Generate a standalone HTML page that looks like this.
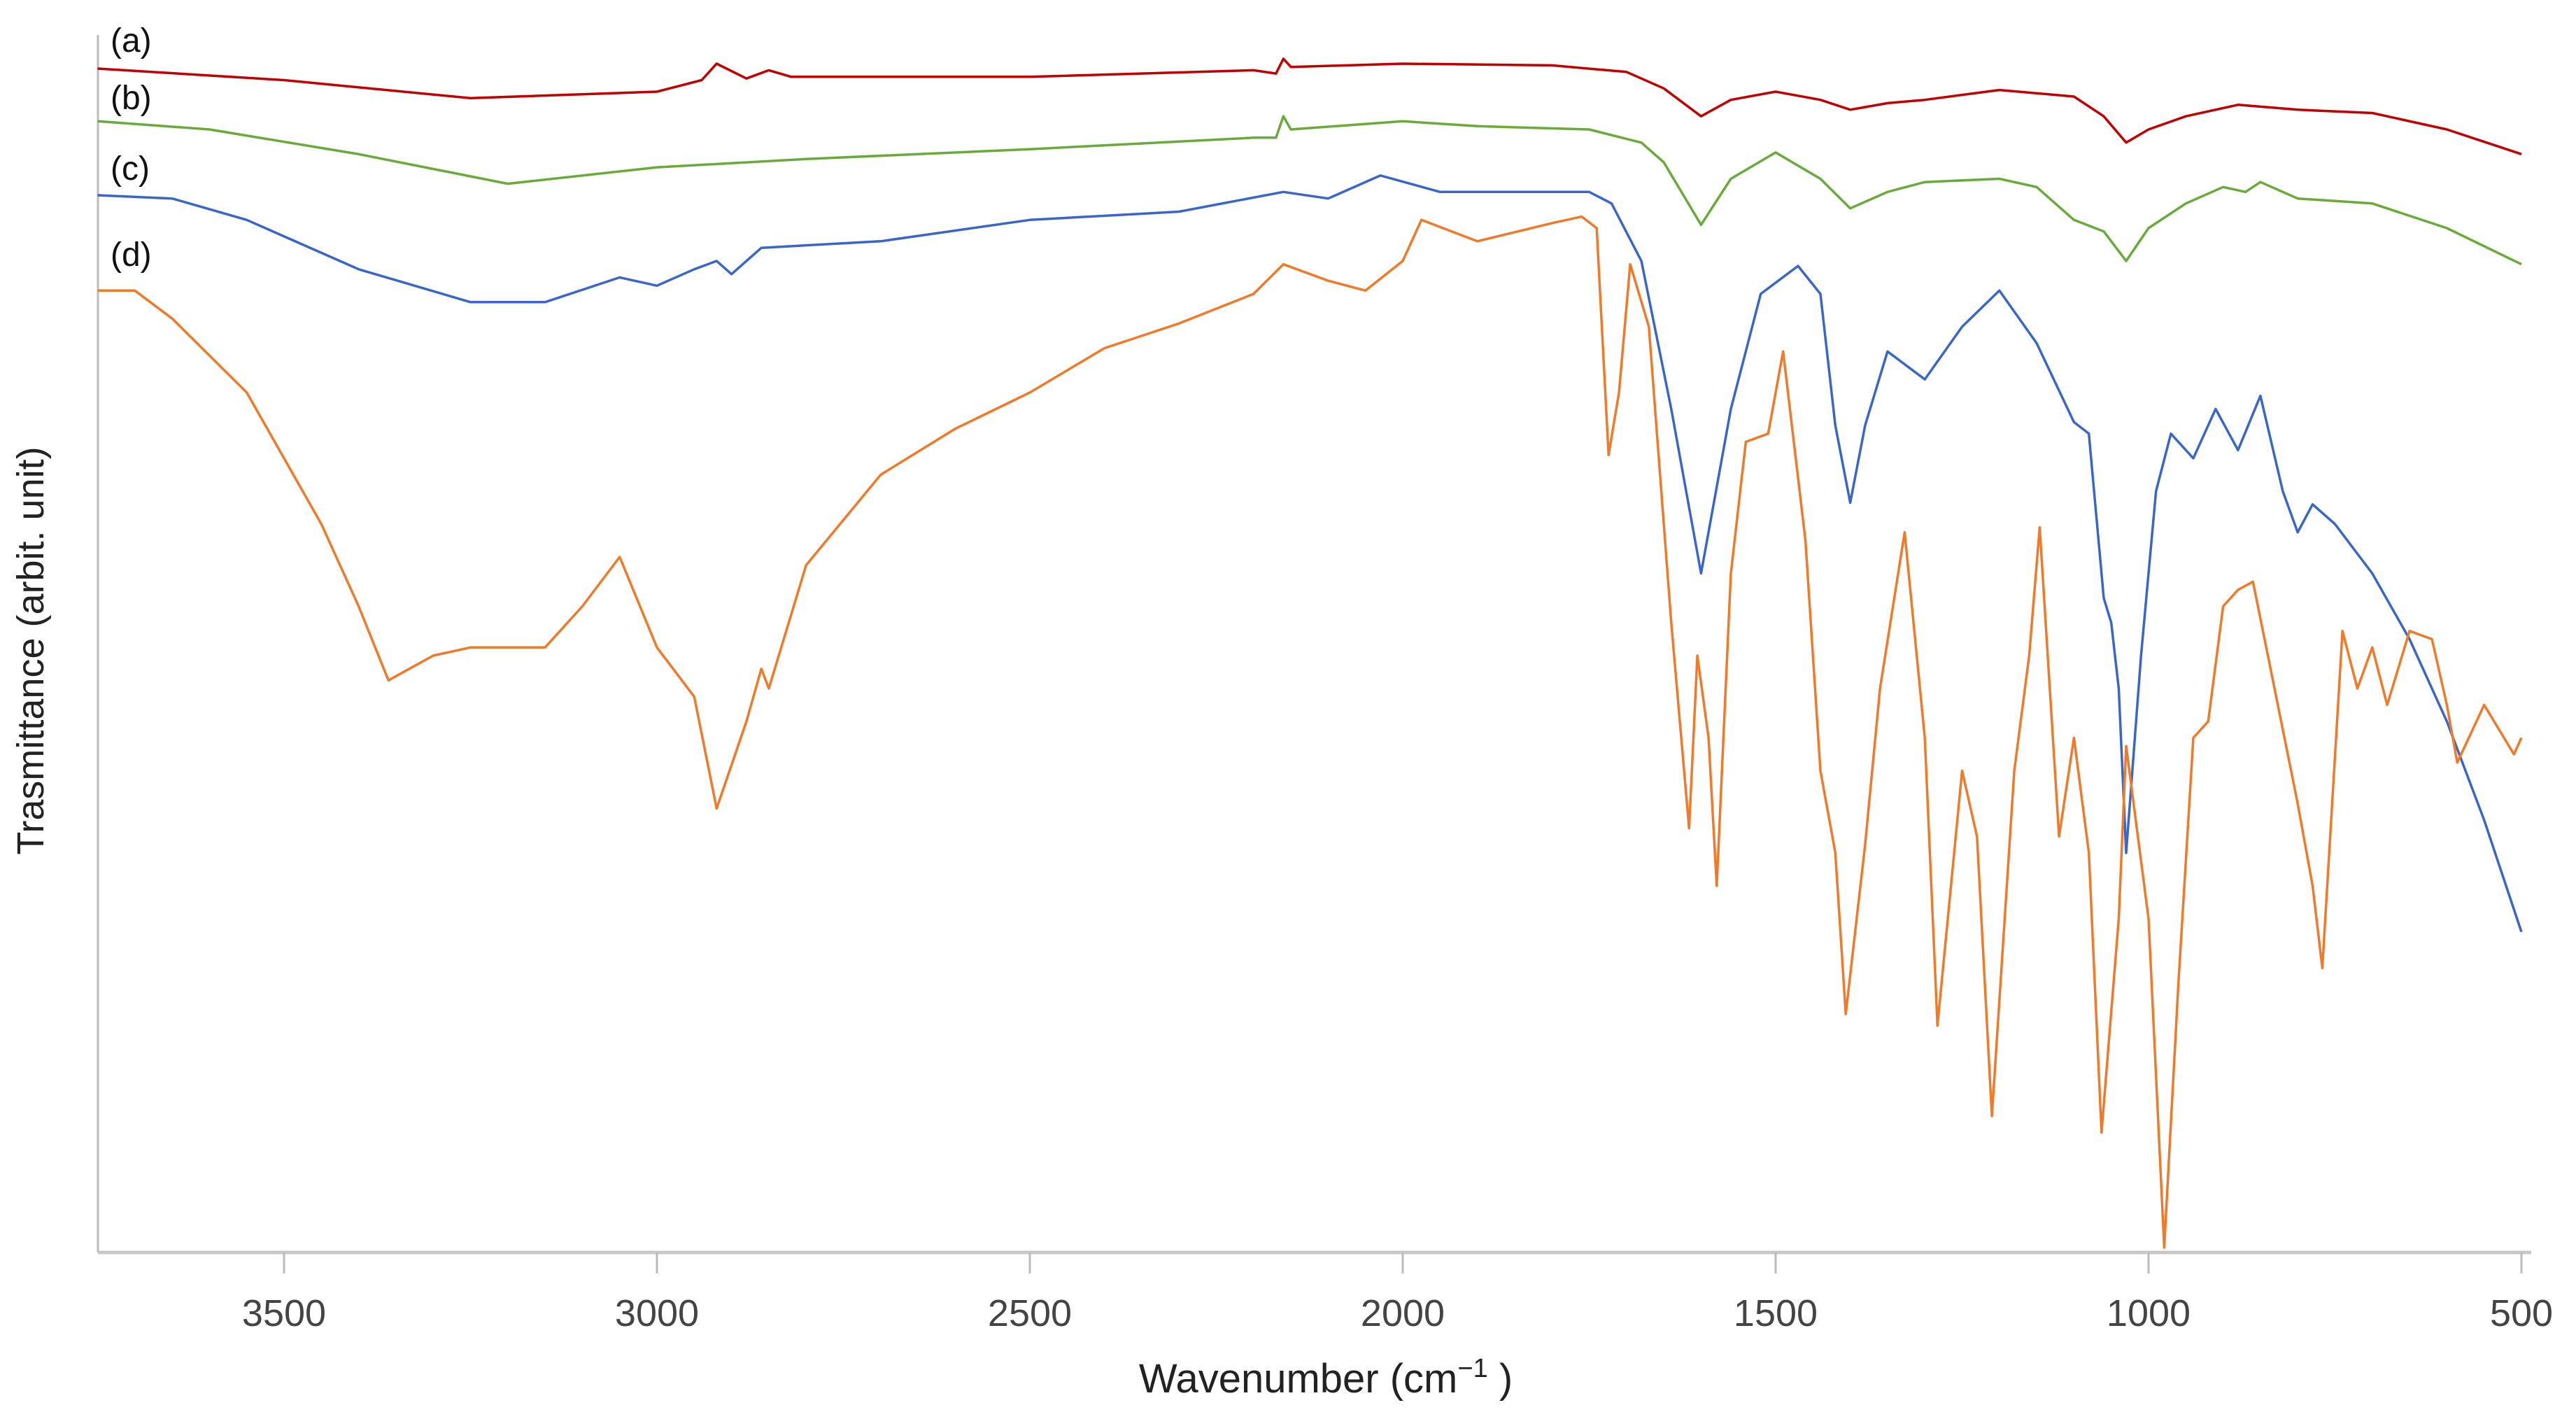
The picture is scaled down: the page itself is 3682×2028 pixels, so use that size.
<!DOCTYPE html>
<html><head><meta charset="utf-8">
<style>
html,body{margin:0;padding:0;background:#fff;}
svg{display:block;font-family:"Liberation Sans",sans-serif;}
</style></head>
<body>
<svg id="chart" width="3682" height="2028" viewBox="0 0 3682 2028">
<g id="axes"></g>
<g id="series"></g>
<text x="1895" y="1990" font-size="58" text-anchor="middle" fill="#222">Wavenumber (cm<tspan font-size="38" dy="-22">−1</tspan><tspan dy="22"> )</tspan></text>
<text transform="translate(62,930) rotate(-90)" font-size="54" text-anchor="middle" fill="#222">Trasmittance (arbit. unit)</text>
<text x="158" y="74" font-size="48" fill="#111">(a)</text>
<text x="158" y="156" font-size="48" fill="#111">(b)</text>
<text x="158" y="257" font-size="48" fill="#111">(c)</text>
<text x="158" y="380" font-size="48" fill="#111">(d)</text>
</svg>
<script>
const xTicks = [3500,3000,2500,2000,1500,1000,500];
const wnA = [3750,3500,3250,3000,2940,2920,2880,2850,2820,2500,2200,2170,2160,2150,2000,1800,1700,1650,1600,1560,1500,1440,1400,1350,1300,1200,1100,1060,1030,1000,950,880,800,700,600,500];
const valA = [43,50,61,57,50,40,49,44,48,48,44,46,37,42,40,41,45,55,72,62,57,62,68,64,62,56,60,72,88,80,72,65,68,70,80,95];
const wnB = [3750,3600,3400,3200,3000,2800,2500,2200,2170,2160,2150,2000,1900,1750,1680,1650,1600,1560,1500,1440,1400,1350,1300,1200,1150,1100,1060,1030,1000,950,900,870,850,800,700,600,500];
const valB = [75,80,95,113,103,98,92,85,85,72,80,75,78,80,88,100,138,110,94,110,128,118,112,110,115,135,142,160,140,125,115,118,112,122,125,140,162];
const wnC = [3750,3650,3550,3400,3250,3150,3050,3000,2950,2920,2900,2860,2700,2500,2300,2160,2100,2030,1950,1750,1720,1680,1640,1600,1560,1520,1470,1440,1420,1400,1380,1350,1300,1250,1200,1150,1100,1080,1060,1050,1040,1030,1010,990,970,940,910,880,850,820,800,780,750,700,650,600,550,500];
const valC = [120,122,135,165,185,185,170,175,165,160,168,152,148,135,130,118,122,108,118,118,125,160,250,350,250,180,163,180,260,307,260,215,232,200,178,210,258,265,365,380,420,520,400,300,265,280,250,275,242,300,325,308,320,350,390,440,500,568];
const wnD = [3750,3700,3650,3550,3450,3400,3360,3300,3250,3150,3100,3050,3000,2950,2920,2880,2860,2850,2800,2700,2600,2500,2400,2300,2200,2160,2100,2050,2000,1975,1900,1800,1760,1740,1724,1710,1695,1670,1640,1616,1605,1590,1579,1560,1540,1510,1490,1460,1440,1420,1406,1380,1360,1327,1300,1283,1250,1230,1210,1180,1160,1146,1120,1100,1080,1063,1040,1030,1000,979,960,940,920,900,880,860,840,800,780,767,740,720,700,680,650,620,600,586,550,510,500];
const valD = [178,178,195,240,320,370,415,400,395,395,370,340,395,425,493,440,408,420,345,290,262,240,213,198,180,162,172,178,160,135,148,137,133,140,278,240,162,200,380,505,400,450,540,350,270,265,215,330,470,520,618,515,420,325,450,625,470,510,680,470,400,322,510,450,520,690,560,455,560,760,600,450,440,370,360,355,400,490,540,590,385,420,395,430,385,390,430,465,430,460,450];

const NS="http://www.w3.org/2000/svg";
const X0=140, Y0=1790;
function xScale(w){ return 406 + (3500 - w) * (3604 - 406) / 3000; }
function yScale(v){ return Y0 - (763 - v) * 2.35 + (763-763)*0; }
function yPix(v){ return v * 2.35 - 3; }

const axes=document.getElementById('axes');
const yAxis=document.createElementNS(NS,'line');


yAxis.setAttribute('x1',X0);yAxis.setAttribute('x2',X0);yAxis.setAttribute('y1',50);yAxis.setAttribute('y2',Y0);
yAxis.setAttribute('stroke','#bbb');yAxis.setAttribute('stroke-width','3');
axes.appendChild(yAxis);
const xAxis=document.createElementNS(NS,'line');


xAxis.setAttribute('x1',X0);xAxis.setAttribute('x2',3618);xAxis.setAttribute('y1',Y0);xAxis.setAttribute('y2',Y0);
xAxis.setAttribute('stroke','#c8c8c8');xAxis.setAttribute('stroke-width','5');
axes.appendChild(xAxis);
xTicks.forEach(t=>{
  const x=xScale(t);
  const tk=document.createElementNS(NS,'line');
  
  
  tk.setAttribute('x1',x);tk.setAttribute('x2',x);tk.setAttribute('y1',Y0);tk.setAttribute('y2',Y0+30);
  tk.setAttribute('stroke','#bbb');tk.setAttribute('stroke-width','3');
  axes.appendChild(tk);
  const lb=document.createElementNS(NS,'text');
  
  
  lb.setAttribute('x',x);lb.setAttribute('y',1895);
  lb.setAttribute('text-anchor','middle');lb.setAttribute('font-size','54');lb.setAttribute('fill','#444');
  lb.textContent=t;
  axes.appendChild(lb);
});
const seriesG=document.getElementById('series');
function draw(wn,val,color,name){
  const d=wn.map((w,i)=>(i?'L':'M')+xScale(w).toFixed(1)+','+yPix(val[i]).toFixed(1)).join(' ');
  const p=document.createElementNS(NS,'path');
  
  
  p.setAttribute('d',d);p.setAttribute('fill','none');p.setAttribute('stroke',color);
  p.setAttribute('stroke-width','3.5');p.setAttribute('stroke-linejoin','round');
  seriesG.appendChild(p);
}
draw(wnA,valA,'#c00000','series-a');
draw(wnB,valB,'#6aaa3a','series-b');
draw(wnC,valC,'#3a66c8','series-c');
draw(wnD,valD,'#ee7a2a','series-d');
</script>
</body></html>
